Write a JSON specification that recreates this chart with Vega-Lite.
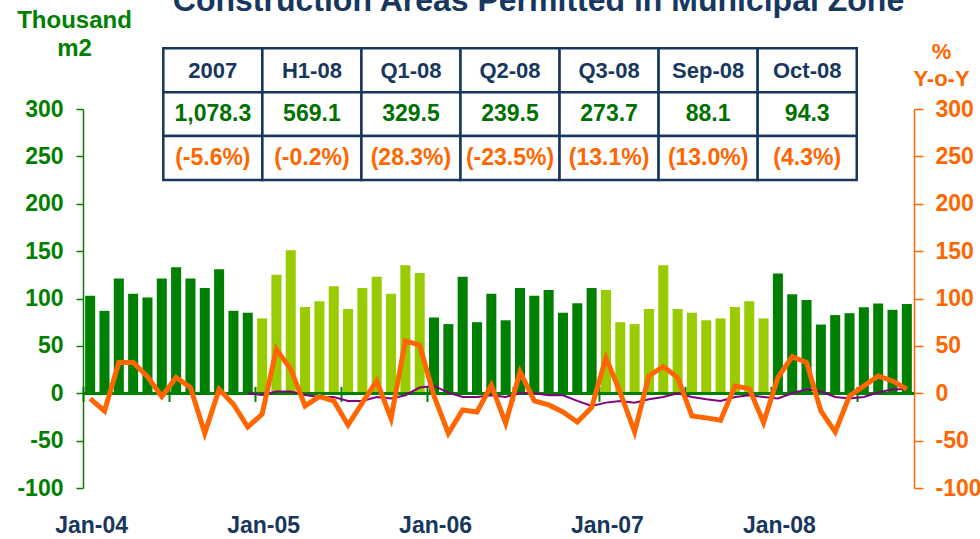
{
  "$schema": "https://vega.github.io/schema/vega-lite/v6.json",
  "width": 831,
  "height": 379,
  "autosize": {"type": "none"},
  "padding": {"left": 83, "top": 109, "right": 66, "bottom": 51},
  "background": "white",
  "config": {"view": {"stroke": null}, "font": "Liberation Sans"},
  "title": {"text": "Construction Areas Permitted in Municipal Zone", "anchor": "middle", "fontSize": 32, "fontWeight": "bold", "color": "#17375E", "dx": 40, "dy": 10, "offset": 0},
  "datasets": {
    "monthly": [
      {"m": "Jan-04", "yr": "2004", "area": 103, "yoy": -5.6, "avg": null},
      {"m": "Feb-04", "yr": "2004", "area": 87, "yoy": -18.7, "avg": null},
      {"m": "Mar-04", "yr": "2004", "area": 121, "yoy": 32.4, "avg": null},
      {"m": "Apr-04", "yr": "2004", "area": 105, "yoy": 32.4, "avg": null},
      {"m": "May-04", "yr": "2004", "area": 101, "yoy": 17.6, "avg": null},
      {"m": "Jun-04", "yr": "2004", "area": 121, "yoy": -3.5, "avg": null},
      {"m": "Jul-04", "yr": "2004", "area": 133, "yoy": 16.6, "avg": null},
      {"m": "Aug-04", "yr": "2004", "area": 121, "yoy": 6, "avg": null},
      {"m": "Sep-04", "yr": "2004", "area": 111, "yoy": -42.3, "avg": null},
      {"m": "Oct-04", "yr": "2004", "area": 131, "yoy": 4.2, "avg": null},
      {"m": "Nov-04", "yr": "2004", "area": 87, "yoy": -11.6, "avg": null},
      {"m": "Dec-04", "yr": "2004", "area": 85, "yoy": -35.6, "avg": 0},
      {"m": "Jan-05", "yr": "2005", "area": 79, "yoy": -22.2, "avg": -1.8},
      {"m": "Feb-05", "yr": "2005", "area": 125, "yoy": 46.5, "avg": 1.8},
      {"m": "Mar-05", "yr": "2005", "area": 151, "yoy": 25.4, "avg": 1.8},
      {"m": "Apr-05", "yr": "2005", "area": 91, "yoy": -13.4, "avg": -1.8},
      {"m": "May-05", "yr": "2005", "area": 97, "yoy": -3.5, "avg": -3.9},
      {"m": "Jun-05", "yr": "2005", "area": 113, "yoy": -8.1, "avg": -3.9},
      {"m": "Jul-05", "yr": "2005", "area": 89, "yoy": -33.5, "avg": -8.1},
      {"m": "Aug-05", "yr": "2005", "area": 111, "yoy": -10, "avg": -8.1},
      {"m": "Sep-05", "yr": "2005", "area": 123, "yoy": 13, "avg": -3.9},
      {"m": "Oct-05", "yr": "2005", "area": 105, "yoy": -26.7, "avg": -5.6},
      {"m": "Nov-05", "yr": "2005", "area": 135, "yoy": 55.3, "avg": -2.1},
      {"m": "Dec-05", "yr": "2005", "area": 127, "yoy": 50.7, "avg": 6},
      {"m": "Jan-06", "yr": "2006", "area": 80, "yoy": -2.8, "avg": 7.7},
      {"m": "Feb-06", "yr": "2006", "area": 73, "yoy": -42.3, "avg": 0.7},
      {"m": "Mar-06", "yr": "2006", "area": 123, "yoy": -17.6, "avg": -3.9},
      {"m": "Apr-06", "yr": "2006", "area": 75, "yoy": -19.7, "avg": -3.9},
      {"m": "May-06", "yr": "2006", "area": 105, "yoy": 8.5, "avg": -2.1},
      {"m": "Jun-06", "yr": "2006", "area": 77, "yoy": -31.7, "avg": -3.9},
      {"m": "Jul-06", "yr": "2006", "area": 111, "yoy": 22.5, "avg": 0},
      {"m": "Aug-06", "yr": "2006", "area": 103, "yoy": -8.1, "avg": 0},
      {"m": "Sep-06", "yr": "2006", "area": 109, "yoy": -12.3, "avg": -2.1},
      {"m": "Oct-06", "yr": "2006", "area": 85, "yoy": -19.7, "avg": -2.1},
      {"m": "Nov-06", "yr": "2006", "area": 95, "yoy": -30.3, "avg": -8.1},
      {"m": "Dec-06", "yr": "2006", "area": 111, "yoy": -15.1, "avg": -13.4},
      {"m": "Jan-07", "yr": "2007", "area": 109, "yoy": 37.3, "avg": -9.9},
      {"m": "Feb-07", "yr": "2007", "area": 75, "yoy": 0.7, "avg": -8.1},
      {"m": "Mar-07", "yr": "2007", "area": 73, "yoy": -40.8, "avg": -9.9},
      {"m": "Apr-07", "yr": "2007", "area": 89, "yoy": 18.3, "avg": -6.3},
      {"m": "May-07", "yr": "2007", "area": 135, "yoy": 28.2, "avg": -3.9},
      {"m": "Jun-07", "yr": "2007", "area": 89, "yoy": 16.6, "avg": 0},
      {"m": "Jul-07", "yr": "2007", "area": 85, "yoy": -24, "avg": -3.9},
      {"m": "Aug-07", "yr": "2007", "area": 77, "yoy": -26, "avg": -6.3},
      {"m": "Sep-07", "yr": "2007", "area": 79, "yoy": -28.5, "avg": -8.1},
      {"m": "Oct-07", "yr": "2007", "area": 91, "yoy": 7.7, "avg": -3.9},
      {"m": "Nov-07", "yr": "2007", "area": 97, "yoy": 4.9, "avg": -2.1},
      {"m": "Dec-07", "yr": "2007", "area": 79, "yoy": -31, "avg": -3.9},
      {"m": "Jan-08", "yr": "2008", "area": 126.5, "yoy": 16.6, "avg": -5.6},
      {"m": "Feb-08", "yr": "2008", "area": 104.5, "yoy": 38.7, "avg": 0},
      {"m": "Mar-08", "yr": "2008", "area": 98.5, "yoy": 32.4, "avg": 4.2},
      {"m": "Apr-08", "yr": "2008", "area": 72.5, "yoy": -18.7, "avg": 1.8},
      {"m": "May-08", "yr": "2008", "area": 82.5, "yoy": -40.8, "avg": -3.9},
      {"m": "Jun-08", "yr": "2008", "area": 84.5, "yoy": -2.8, "avg": -5.6},
      {"m": "Jul-08", "yr": "2008", "area": 90.8, "yoy": 7.7, "avg": -3.9},
      {"m": "Aug-08", "yr": "2008", "area": 94.8, "yoy": 18.3, "avg": 0.7},
      {"m": "Sep-08", "yr": "2008", "area": 88.1, "yoy": 13.0, "avg": 4.2},
      {"m": "Oct-08", "yr": "2008", "area": 94.3, "yoy": 4.3, "avg": 4.2}
    ],
    "table": [
      {"c": 0, "r": 0, "k": "h", "t": "2007"},
      {"c": 1, "r": 0, "k": "h", "t": "H1-08"},
      {"c": 2, "r": 0, "k": "h", "t": "Q1-08"},
      {"c": 3, "r": 0, "k": "h", "t": "Q2-08"},
      {"c": 4, "r": 0, "k": "h", "t": "Q3-08"},
      {"c": 5, "r": 0, "k": "h", "t": "Sep-08"},
      {"c": 6, "r": 0, "k": "h", "t": "Oct-08"},
      {"c": 0, "r": 1, "k": "v", "t": "1,078.3"},
      {"c": 1, "r": 1, "k": "v", "t": "569.1"},
      {"c": 2, "r": 1, "k": "v", "t": "329.5"},
      {"c": 3, "r": 1, "k": "v", "t": "239.5"},
      {"c": 4, "r": 1, "k": "v", "t": "273.7"},
      {"c": 5, "r": 1, "k": "v", "t": "88.1"},
      {"c": 6, "r": 1, "k": "v", "t": "94.3"},
      {"c": 0, "r": 2, "k": "p", "t": "(-5.6%)"},
      {"c": 1, "r": 2, "k": "p", "t": "(-0.2%)"},
      {"c": 2, "r": 2, "k": "p", "t": "(28.3%)"},
      {"c": 3, "r": 2, "k": "p", "t": "(-23.5%)"},
      {"c": 4, "r": 2, "k": "p", "t": "(13.1%)"},
      {"c": 5, "r": 2, "k": "p", "t": "(13.0%)"},
      {"c": 6, "r": 2, "k": "p", "t": "(4.3%)"}
    ]
  },
  "layer": [
    {
      "data": {"name": "monthly"},
      "layer": [
        {
          "layer": [
            {
              "mark": {"type": "bar"},
              "encoding": {
                "x": {
                  "field": "m", "type": "ordinal", "sort": null,
                  "scale": {"paddingInner": 0.3, "paddingOuter": 0.15},
                  "axis": {
                    "orient": "bottom", "title": null, "domain": false, "grid": false,
                    "values": ["Jan-04", "Jul-04", "Jan-05", "Jul-05", "Jan-06", "Jul-06", "Jan-07", "Jul-07", "Jan-08", "Jul-08"],
                    "labelExpr": "indexof(datum.value, 'Jan') == 0 ? datum.value : ''",
                    "bandPosition": 0, "tickOffset": -2, "labelOffset": 3,
                    "offset": -101.6, "tickSize": 15, "tickColor": "#008000", "tickWidth": 2,
                    "labelPadding": 113, "labelFontSize": 23, "labelFontWeight": "bold", "labelColor": "#17375E",
                    "labelAngle": 0, "labelOverlap": false
                  }
                },
                "y": {
                  "field": "area", "type": "quantitative",
                  "scale": {"domain": [-100, 300], "nice": false, "zero": false},
                  "axis": {
                    "orient": "left", "grid": false,
                    "values": [-100, -50, 0, 50, 100, 150, 200, 250, 300],
                    "labelExpr": "'' + datum.value", "labelFlush": false, "labelOverlap": false,
                    "domainColor": "#008000", "domainWidth": 1.5,
                    "tickColor": "#008000", "tickWidth": 1.5, "tickSize": 7,
                    "labelPadding": 13, "labelColor": "#008000", "labelFontSize": 23, "labelFontWeight": "bold",
                    "title": ["Thousand", "m2"], "titleAngle": 0, "titleX": -9, "titleY": -82,
                    "titleAlign": "center", "titleBaseline": "alphabetic", "titleColor": "#008000",
                    "titleFontSize": 24, "titleFontWeight": "bold", "titleLineHeight": 28
                  }
                },
                "color": {
                  "field": "yr", "type": "nominal",
                  "scale": {"domain": ["2004", "2005", "2006", "2007", "2008"], "range": ["#008000", "#99CC00", "#008000", "#99CC00", "#008000"]},
                  "legend": null
                }
              }
            },
            {
              "mark": {"type": "rule", "color": "#008000", "strokeWidth": 2.5},
              "encoding": {"y": {"datum": 0, "type": "quantitative"}}
            }
          ]
        },
        {
          "layer": [
            {
              "mark": {"type": "line", "color": "#800080", "strokeWidth": 2},
              "encoding": {
                "x": {"field": "m", "type": "ordinal", "sort": null},
                "y": {"field": "avg", "type": "quantitative"}
              }
            },
            {
              "mark": {"type": "line", "color": "#FF6600", "strokeWidth": 5},
              "encoding": {
                "x": {"field": "m", "type": "ordinal", "sort": null},
                "y": {
                  "field": "yoy", "type": "quantitative",
                  "scale": {"domain": [-100, 300], "nice": false, "zero": false},
                  "axis": {
                    "orient": "right", "grid": false,
                    "values": [-100, -50, 0, 50, 100, 150, 200, 250, 300],
                    "labelExpr": "'' + datum.value", "labelFlush": false, "labelOverlap": false,
                    "domainColor": "#FF6600", "domainWidth": 1.5,
                    "tickColor": "#FF6600", "tickWidth": 1.5, "tickSize": 9,
                    "labelPadding": 12, "labelColor": "#FF6600", "labelFontSize": 23, "labelFontWeight": "bold",
                    "title": ["%", "Y-o-Y"], "titleAngle": 0, "titleX": 27, "titleY": -51,
                    "titleAlign": "center", "titleBaseline": "alphabetic", "titleColor": "#FF6600",
                    "titleFontSize": 22, "titleFontWeight": "bold", "titleLineHeight": 27
                  }
                }
              }
            }
          ]
        }
      ],
      "resolve": {"scale": {"y": "independent"}}
    },
    {
      "data": {"name": "table"},
      "encoding": {
        "x": {"field": "c", "type": "quantitative", "scale": {"domain": [-1.3106, 7.078], "nice": false, "zero": false}, "axis": null},
        "y": {"field": "r", "type": "quantitative", "scale": {"domain": [0.8827, 9.516], "nice": false, "zero": false, "reverse": true}, "axis": null}
      },
      "layer": [
        {"mark": {"type": "rect", "width": 99.06, "height": 43.9, "fill": "white", "stroke": "#17375E", "strokeWidth": 2.5}},
        {
          "transform": [{"filter": "datum.k == 'h'"}],
          "mark": {"type": "text", "fontSize": 22, "fontWeight": "bold", "color": "#17375E", "baseline": "middle", "align": "center", "dy": 1},
          "encoding": {"text": {"field": "t"}}
        },
        {
          "transform": [{"filter": "datum.k == 'v'"}],
          "mark": {"type": "text", "fontSize": 23, "fontWeight": "bold", "color": "#007000", "baseline": "middle", "align": "center"},
          "encoding": {"text": {"field": "t"}}
        },
        {
          "transform": [{"filter": "datum.k == 'p'"}],
          "mark": {"type": "text", "fontSize": 23, "fontWeight": "bold", "color": "#FF6600", "baseline": "middle", "align": "center"},
          "encoding": {"text": {"field": "t"}}
        }
      ]
    }
  ],
  "resolve": {"scale": {"x": "independent", "y": "independent", "color": "independent"}}
}
